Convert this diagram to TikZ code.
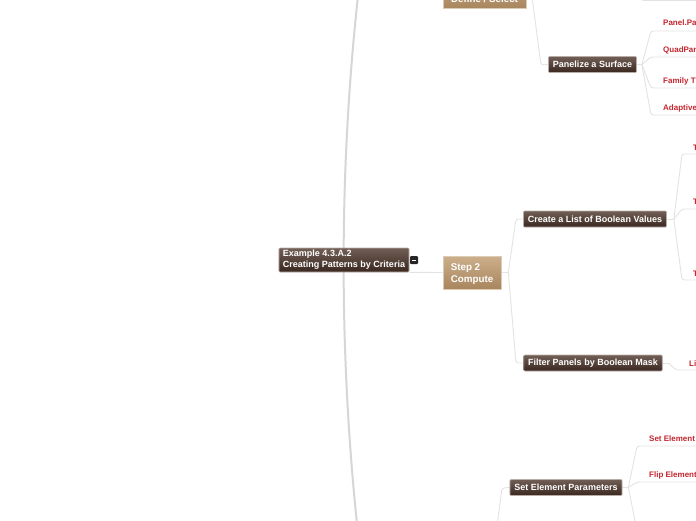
\documentclass[tikz,border=0pt]{standalone}
\usepackage{fontspec}
\setmainfont{Liberation Sans}
\usetikzlibrary{backgrounds}
\definecolor{linegray}{HTML}{E3E3E3}
\definecolor{trunkgray}{HTML}{D6D6D6}
\definecolor{darktop}{HTML}{715F56}
\definecolor{darkbot}{HTML}{3A2820}
\definecolor{darkedge}{HTML}{B8ADA6}
\definecolor{tantop}{HTML}{CCAF8B}
\definecolor{tanbot}{HTML}{A8865E}
\definecolor{tanedge}{HTML}{DCCBB4}
\definecolor{leafred}{HTML}{C4262E}
\tikzset{
  darkbox/.style={rectangle, rounded corners=1pt, top color=darktop, bottom color=darkbot,
    draw=darkedge, line width=0.6pt, text=white, font=\fontsize{9}{11}\selectfont\bfseries,
    inner xsep=4.5pt, inner ysep=0pt, minimum height=16pt},
  tanbox/.style={rectangle, top color=tantop, bottom color=tanbot, draw=tanedge, line width=0.6pt,
    text=white, font=\fontsize{9.8}{12}\selectfont\bfseries, align=left,
    inner xsep=7pt, inner ysep=0pt, minimum height=33pt, minimum width=58pt},
  markbox/.style={rectangle, rounded corners=1pt, fill=black!85, minimum size=8pt, inner sep=0pt},
  conn/.style={draw=linegray, line width=0.9pt, rounded corners=2.5pt},
  trunk/.style={draw=trunkgray, line width=2pt},
  leaf/.style={anchor=base west, inner sep=0pt, text=leafred, font=\fontsize{8}{9.6}\selectfont\bfseries}
}
\begin{document}
\begin{tikzpicture}[x=1pt, y=-1pt]
\useasboundingbox (0,0) rectangle (696,520);
\clip (0,0) rectangle (696,520);
% nodes
\node[darkbox, align=left, minimum height=24pt, inner xsep=4pt] (root) at (344,260)
  {Example 4.3.A.2\\Creating Patterns by Criteria};
\node[markbox] (mk) at (414,260) {};
\draw[white, line width=0.8pt] ([xshift=-2pt]mk.center) -- ([xshift=2pt]mk.center);
\node[tanbox, minimum width=83pt] (s1) at (484.5,-8.5) {\rule{0pt}{11pt}Step 1\\Define / Select};
\node[tanbox] (s2) at (472,272.5) {\rule{0pt}{11pt}Step 2\\Compute};
\node[darkbox] (pan) at (592.5,64.5) {Panelize a Surface};
\node[darkbox] (cl) at (595,219) {Create a List of Boolean Values};
\node[darkbox] (fp) at (593,363) {Filter Panels by Boolean Mask};
\node[darkbox] (se) at (566,487.5) {Set Element Parameters};
% leaves
\node[leaf] (p1) at (663,25) {Panel.Pa};
\node[leaf] (p2) at (663,52) {QuadPan};
\node[leaf] (p3) at (663,83) {Family T};
\node[leaf] (p4) at (663,110) {Adaptive};
\node[leaf] (t1) at (693,150) {T};
\node[leaf] (t2) at (693,204) {T};
\node[leaf] (t3) at (693,276) {T};
\node[leaf] (li) at (689,366) {Li};
\node[leaf] (e1) at (649,441) {Set Element};
\node[leaf] (e2) at (649,477) {Flip Element};
% coordinates
\coordinate (trtop) at (358,-4);
\coordinate (trmid) at (344,260);
\coordinate (trbot) at (357,524);
\coordinate (p1u) at (651,31);
\coordinate (p2u) at (651,57);
\coordinate (p3u) at (651,88);
\coordinate (p4u) at (651,115);
\coordinate (t1u) at (682,154);
\coordinate (t2u) at (682,209);
\coordinate (t3u) at (682,280);
\coordinate (liu) at (676,370);
\coordinate (e1u) at (637,446);
\coordinate (e2u) at (637,482);
\coordinate (e3u) at (636,526);
\coordinate (tv) at (641,-6);
\coordinate (tu) at (641,0.5);
\coordinate (s3in) at (497,526);
\begin{scope}[on background layer]
\fill[white] (0,0) rectangle (696,520);
\draw[trunk] (trtop) .. controls (339,170) and (339,350) .. (trbot);
\draw[conn] (root.south east) -- (s2.west);
\draw[conn] (tv) -- (tu) -- ++(60,0);
% step 1
\draw[conn] (s1.east) -- ++(5,0) coordinate (j1);
\draw[conn] (j1) -- (541,65) -- (pan.west);
% panelize
\draw[conn] (pan.east) -- ++(5,0) coordinate (jp);
\draw[conn] (jp) -- (p1u) -- ++(60,0);
\draw[conn] (jp) -- (p2u) -- ++(60,0);
\draw[conn] (jp) -- (p3u) -- ++(60,0);
\draw[conn] (jp) -- (p4u) -- ++(60,0);
% step 2
\draw[conn] (s2.east) -- ++(7,0) coordinate (j2);
\draw[conn] (j2) -- (516,219) -- (cl.west);
\draw[conn] (j2) -- (516,363) -- (fp.west);
% create list
\draw[conn] (cl.east) -- ++(7,0) coordinate (j3);
\draw[conn] (j3) -- (t1u) -- ++(30,0);
\draw[conn] (j3) -- (t2u) -- ++(30,0);
\draw[conn] (j3) -- (t3u) -- ++(30,0);
% filter
\draw[conn] (fp.east) -- ++(6,0) coordinate (j4);
\draw[conn] (j4) -- (liu) -- ++(30,0);
% set element
\draw[conn] (s3in) -- (502,488) -- (se.west);
\draw[conn] (se.east) -- ++(6,0) coordinate (j5);
\draw[conn] (j5) -- (e1u) -- ++(70,0);
\draw[conn] (j5) -- (e2u) -- ++(70,0);
\draw[conn] (j5) -- (e3u);
\end{scope}
\end{tikzpicture}
\end{document}
